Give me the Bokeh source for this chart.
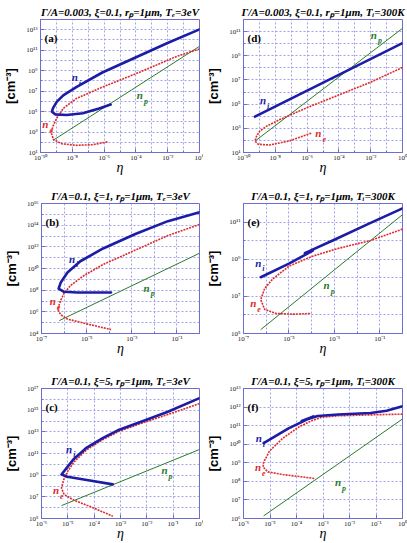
import numpy as np
from bokeh.plotting import figure
from bokeh.layouts import column, row
from bokeh.models import FixedTicker, CustomJSTickFormatter, Label
from bokeh.embed import file_html
from bokeh.resources import INLINE

# All values are log10: x = log10(eta), y = log10(density / cm^-3)

# (a) Gamma/A=0.003, xi=0.1, Te=3eV
A_NI_X = [0, -2.01, -4.06, -6.11, -7.75, -8.57, -8.98, -9.22, -9.28, -9.08, -8.36, -7.34, -6.31, -5.59]
A_NI_Y = [13.04, 11.70, 10.26, 8.82, 7.39, 6.59, 5.95, 5.31, 4.99, 4.73, 4.67, 4.83, 5.31, 5.69]
A_NE_X = [0, -1.39, -4.06, -6.11, -7.75, -8.57, -8.98, -9.22, -9.32, -9.18, -8.67, -7.75, -6.72, -5.74]
A_NE_Y = [11.12, 10.42, 8.66, 7.39, 6.27, 5.31, 4.35, 3.55, 2.91, 2.27, 1.86, 1.70, 1.76, 2.05]
A_NP_X = [-9.22, 0]
A_NP_Y = [2.18, 11.38]

# (d) Gamma/A=0.003, xi=0.1, Ti=300K
D_NI_X = [-9.28, 0]
D_NI_Y = [3.97, 10.05]
D_NE_X = [0, -2.01, -4.06, -6.11, -7.75, -8.57, -8.98, -9.18, -9.28, -9.08, -8.36, -7.13, -5.70]
D_NE_Y = [8.03, 6.81, 5.73, 4.65, 3.70, 3.16, 2.76, 2.35, 1.95, 1.68, 1.62, 1.95, 2.62]
D_NP_X = [-9.22, 0]
D_NP_Y = [2.00, 11.27]

# (b) Gamma/A=0.1, xi=1, Te=3eV
B_NI_X = [0, -1.40, -2.84, -4.27, -5.28, -5.85, -6.14, -6.24, -6.00, -5.42, -3.92]
B_NI_Y = [15.20, 14.37, 13.19, 11.85, 10.67, 9.63, 8.74, 8.15, 7.85, 7.79, 7.79]
B_NE_X = [0, -1.40, -2.84, -4.27, -5.13, -5.71, -6.00, -6.14, -6.24, -6.25, -6.14, -5.85, -4.99, -3.92]
B_NE_Y = [14.07, 13.04, 11.70, 10.37, 9.33, 8.44, 7.70, 7.11, 6.52, 6.07, 5.72, 5.33, 4.89, 4.36]
B_NP_X = [-6.21, 0]
B_NP_Y = [5.19, 11.41]

# (e) Gamma/A=0.1, xi=1, Ti=300K
E_NI_X = [-6.24, -5.00, -3.95, -4.30, -3.00, -1.50, 0]
E_NI_Y = [8.03, 8.76, 9.46, 9.33, 10.05, 10.90, 11.74]
E_NE_X = [0, -1.40, -2.84, -3.99, -4.99, -5.71, -6.07, -6.24, -6.07, -5.57, -4.85, -4.02]
E_NE_Y = [10.62, 10.01, 9.58, 9.15, 8.63, 7.94, 7.42, 6.82, 6.30, 6.08, 6.04, 6.08]
E_NP_X = [-6.24, 0]
E_NP_Y = [5.21, 11.40]

# (c) Gamma/A=0.1, xi=5, Te=3eV
C_NI_X = [0, -1.20, -2.19, -3.05, -3.66, -4.28, -4.77, -5.02, -5.24, -5.02, -4.28, -3.29]
C_NI_Y = [16.11, 14.85, 13.95, 13.20, 12.45, 11.55, 10.50, 9.74, 9.06, 8.85, 8.55, 8.15]
C_NE_X = [0, -1.20, -2.19, -3.05, -3.66, -4.28, -4.77, -5.02, -5.16, -5.24, -5.14, -4.77, -4.15, -3.29]
C_NE_Y = [15.61, 14.60, 13.80, 13.05, 12.30, 11.35, 10.20, 9.30, 8.56, 7.81, 7.22, 6.69, 6.10, 5.21]
C_NP_X = [-5.24, 0]
C_NP_Y = [6.19, 11.37]

# (f) Gamma/A=0.1, xi=5, Ti=300K
F_NI_X = [-5.24, -4.30, -3.36, -3.80, -3.20, -2.43, -1.20, -0.60, 0]
F_NI_Y = [10.06, 10.85, 11.50, 11.25, 11.52, 11.60, 11.68, 11.80, 12.05]
F_NE_X = [0, -1.20, -2.43, -3.05, -3.42, -3.91, -4.52, -5.02, -5.24, -5.26, -5.08, -4.52, -3.29]
F_NE_Y = [11.62, 11.58, 11.53, 11.45, 11.27, 10.93, 10.32, 9.63, 9.03, 8.77, 8.51, 8.37, 8.15]
F_NP_X = [-5.24, 0]
F_NP_Y = [6.14, 11.36]

# Axis extents (decades) and labelled decades
A_XR, A_YR = (-10, 0), (1, 14)
D_XR, D_YR = (-10, 0), (1, 12)
B_XR, B_YR = (-7, 0), (4, 16)
E_XR, E_YR = (-7, 0), (5, 12)
C_XR, C_YR = (-6, 0), (5, 17)
F_XR, F_YR = (-6, 0), (6, 13)

A_XTICKS, A_YTICKS = [-10, -8, -6, -4, -2, 0], [1, 3, 5, 7, 9, 11, 13]
D_XTICKS, D_YTICKS = [-10, -8, -6, -4, -2, 0], [1, 3, 5, 7, 9, 11]
B_XTICKS, B_YTICKS = [-7, -5, -3, -1], [4, 6, 8, 10, 12, 14, 16]
E_XTICKS, E_YTICKS = [-7, -5, -3, -1], [5, 7, 9, 11]
C_XTICKS, C_YTICKS = [-6, -5, -4, -3, -2, -1, 0], [5, 7, 9, 11, 13, 15, 17]
F_XTICKS, F_YTICKS = [-6, -5, -4, -3, -2, -1, 0], [6, 7, 8, 9, 10, 11, 12, 13]

TITLES = {
    "a": "Γ/A=0.003, ξ=0.1, rₚ=1μm, Tₑ=3eV",
    "d": "Γ/A=0.003, ξ=0.1, rₚ=1μm, Tᵢ=300K",
    "b": "Γ/A=0.1, ξ=1, rₚ=1μm, Tₑ=3eV",
    "e": "Γ/A=0.1, ξ=1, rₚ=1μm, Tᵢ=300K",
    "c": "Γ/A=0.1, ξ=5, rₚ=1μm, Tₑ=3eV",
    "f": "Γ/A=0.1, ξ=5, rₚ=1μm, Tᵢ=300K",
}
X_NAME = "η"
Y_NAME = "[cm⁻³]"

# where the n_i / n_e / n_p names sit (log10 coordinates)
NAME_POS = {
    "a": {"i": (-7.85, 8.35), "e": (-9.69, 3.78), "p": (-3.75, 6.59)},
    "d": {"i": (-8.77, 5.32), "e": (-5.29, 2.62), "p": (-1.80, 10.73)},
    "b": {"i": (-5.65, 10.90), "e": (-6.50, 7.00), "p": (-2.34, 8.22)},
    "e": {"i": (-6.35, 8.80), "e": (-6.57, 6.65), "p": (-3.34, 7.60)},
    "c": {"i": (-4.95, 11.45), "e": (-5.45, 7.67), "p": (-1.33, 9.44)},
    "f": {"i": (-5.42, 10.32), "e": (-5.45, 8.77), "p": (-2.43, 7.94)},
}

BLUE = "#1c1ca6"
RED = "#de2b2b"
GREEN = "#2a7a2a"
FRAME = "#6e6ed2"
GRID = "#8c8ce8"
SERIF = "Liberation Serif"

POW10 = CustomJSTickFormatter(code="""
const s = {"0":"\u2070","1":"\u00b9","2":"\u00b2","3":"\u00b3","4":"\u2074","5":"\u2075",
           "6":"\u2076","7":"\u2077","8":"\u2078","9":"\u2079","-":"\u207b"};
const e = Math.round(Math.log10(tick));
return "10" + String(e).split("").map(c => s[c]).join("");
""")


def decades(r):
    lo, hi = int(np.ceil(r[0] - 1e-9)), int(np.floor(r[1] + 1e-9))
    return [10.0 ** k for k in range(lo, hi + 1)]


def panel(key, xr, yr, xt, yt, ni, ne, npl, w, h, bl, br, bt, bb):
    p = figure(width=w, height=h, x_axis_type="log", y_axis_type="log",
               x_range=(10.0 ** xr[0], 10.0 ** xr[1]),
               y_range=(10.0 ** yr[0], 10.0 ** yr[1]),
               output_backend="svg", toolbar_location=None,
               min_border_left=bl, min_border_right=br,
               min_border_top=bt, min_border_bottom=bb)
    p.title.text = TITLES[key]
    p.title.align = "center"
    p.title.text_font = SERIF
    p.title.text_font_style = "bold italic"
    p.title.text_font_size = "11px"
    p.title.text_color = "black"
    p.title.standoff = 3
    p.background_fill_color = "white"
    p.border_fill_color = "white"
    p.outline_line_color = FRAME
    p.outline_line_width = 1

    for ax, ticks, rng in ((p.xaxis, xt, xr), (p.yaxis, yt, yr)):
        ax.ticker = FixedTicker(ticks=[10.0 ** k for k in ticks], minor_ticks=decades(rng))
        ax.formatter = POW10
        ax.axis_line_color = FRAME
        ax.major_tick_line_color = FRAME
        ax.minor_tick_line_color = FRAME
        ax.major_tick_in = 4
        ax.major_tick_out = 0
        ax.minor_tick_in = 2
        ax.minor_tick_out = 0
        ax.major_label_text_font = SERIF
        ax.major_label_text_font_size = "7px"
        ax.major_label_text_color = "#222222"
    p.xaxis.major_label_standoff = 1
    p.yaxis.major_label_standoff = 3
    p.xaxis.axis_label = X_NAME
    p.xaxis.axis_label_text_font = SERIF
    p.xaxis.axis_label_text_font_style = "italic"
    p.xaxis.axis_label_text_font_size = "14px"
    p.xaxis.axis_label_text_color = "black"
    p.xaxis.axis_label_standoff = -5
    p.yaxis.axis_label = Y_NAME
    p.yaxis.axis_label_text_font = "Liberation Sans"
    p.yaxis.axis_label_text_font_style = "bold"
    p.yaxis.axis_label_text_font_size = "13px"
    p.yaxis.axis_label_text_color = "black"
    p.yaxis.axis_label_standoff = 5

    p.xgrid.ticker = FixedTicker(ticks=decades(xr))
    p.ygrid.ticker = FixedTicker(ticks=decades(yr))
    for g in (p.xgrid, p.ygrid):
        g.grid_line_color = GRID
        g.grid_line_dash = "2 2"
        g.grid_line_width = 0.8

    p.line(10.0 ** np.array(npl[0]), 10.0 ** np.array(npl[1]), line_color=GREEN, line_width=1)
    p.line(10.0 ** np.array(ne[0]), 10.0 ** np.array(ne[1]), line_color=RED, line_width=1.6,
           line_dash="2 1", line_join="round")
    p.line(10.0 ** np.array(ni[0]), 10.0 ** np.array(ni[1]), line_color=BLUE, line_width=2.6,
           line_join="round", line_cap="round")

    # curve names
    for sub, col in (("i", BLUE), ("e", RED), ("p", GREEN)):
        lx, ly = NAME_POS[key][sub]
        p.add_layout(Label(x=10.0 ** lx, y=10.0 ** ly, text="n", text_color=col,
                           text_font=SERIF, text_font_style="bold italic",
                           text_font_size="11px", text_align="center", text_baseline="middle"))
        p.add_layout(Label(x=10.0 ** lx, y=10.0 ** ly, text=sub, text_color=col,
                           text_font=SERIF, text_font_style="bold italic",
                           text_font_size="8px", text_align="left", text_baseline="middle",
                           x_offset=4, y_offset=-6))

    # panel tag
    fh = h - bt - bb
    p.add_layout(Label(x=4, y=fh - 18, x_units="screen", y_units="screen", text="(%s)" % key,
                       text_font=SERIF, text_font_style="bold", text_font_size="11px",
                       text_baseline="middle", text_color="black"))
    return p


pa = panel("a", A_XR, A_YR, A_XTICKS, A_YTICKS, (A_NI_X, A_NI_Y), (A_NE_X, A_NE_Y), (A_NP_X, A_NP_Y),
           203, 181, 37, 4, 19, 29)
pd_ = panel("d", D_XR, D_YR, D_XTICKS, D_YTICKS, (D_NI_X, D_NI_Y), (D_NE_X, D_NE_Y), (D_NP_X, D_NP_Y),
            204, 181, 37, 5, 19, 29)
pb = panel("b", B_XR, B_YR, B_XTICKS, B_YTICKS, (B_NI_X, B_NI_Y), (B_NE_X, B_NE_Y), (B_NP_X, B_NP_Y),
           203, 177, 37, 4, 22, 25)
pe = panel("e", E_XR, E_YR, E_XTICKS, E_YTICKS, (E_NI_X, E_NI_Y), (E_NE_X, E_NE_Y), (E_NP_X, E_NP_Y),
           204, 177, 37, 5, 22, 25)
pc = panel("c", C_XR, C_YR, C_XTICKS, C_YTICKS, (C_NI_X, C_NI_Y), (C_NE_X, C_NE_Y), (C_NP_X, C_NP_Y),
           203, 185, 37, 4, 30, 25)
pf = panel("f", F_XR, F_YR, F_XTICKS, F_YTICKS, (F_NI_X, F_NI_Y), (F_NE_X, F_NE_Y), (F_NP_X, F_NP_Y),
           204, 185, 37, 5, 30, 25)

layout = column(row(pa, pd_), row(pb, pe), row(pc, pf))

with open("out.html", "w") as fh_out:
    fh_out.write(file_html(layout, INLINE))
